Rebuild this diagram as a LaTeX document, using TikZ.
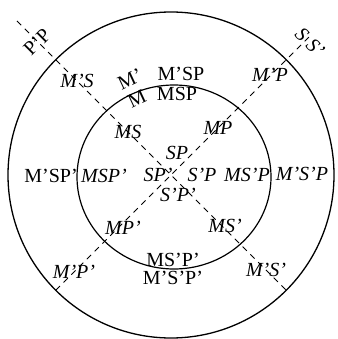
\documentclass[tikz,border=0pt]{standalone}
\usepackage{fontspec}
\setmainfont{Liberation Serif}
\usetikzlibrary{shapes.geometric}

\begin{document}
\begin{tikzpicture}[x=1pt, y=-1pt,
    lbl/.style={inner sep=0pt, font=\fontsize{20}{23}\selectfont\itshape},
    rlbl/.style={inner sep=0pt, font=\fontsize{20}{23}\selectfont\upshape},
    divide/.style={line width=0.8pt, dash pattern=on 6pt off 5pt}]
  \useasboundingbox (0,0) rectangle (337,339);
  % the two circles: M inside, M' in the ring
  \node[circle, draw, line width=1.3pt, inner sep=0pt, outer sep=0pt,
        minimum size=326] (outer) at (171,175) {};
  \node[ellipse, draw, line width=1.2pt, inner sep=0pt, outer sep=0pt,
        minimum width=194, minimum height=184] (inner) at (174,177) {};
  % dividing lines: P | P' and S | S'
  \coordinate (pend) at (17,21);
  \coordinate (send) at (311,35);
  \draw[divide] (pend) -- (outer.-45);
  \draw[divide] (outer.-135) -- (send);
  % line labels
  \node[rlbl, rotate=45] (pp) at (37,42) {P'P};
  \node[lbl, rotate=-45] (ss) at (310,42) {S\;S'};
  % top
  \node[rlbl, rotate=25] (mo) at (130,79) {M'};
  \node[rlbl] (msp-ot) at (181,74) {M'SP};
  \node[rlbl, rotate=25] (mi) at (137,99) {M};
  \node[rlbl] (msp-it) at (177,94) {MSP};
  % along the lines
  \node[lbl] (ms-o) at (77,81) {M'S};
  \node[lbl] (ms-i) at (128,132) {MS};
  \node[lbl] (mp-i) at (218,128) {MP};
  \node[lbl] (mp-o) at (270,75) {M'P};
  \node[lbl] (mpn-i) at (123,228) {MP'};
  \node[lbl] (msn-i) at (225,226) {MS'};
  \node[lbl] (mpn-o) at (74,272) {M'P'};
  \node[lbl] (msn-o) at (266,270) {M'S'};
  % centre
  \node[lbl] (c-t) at (177,153) {SP};
  \node[lbl] (c-l) at (158,175) {SP'};
  \node[lbl] (c-r) at (202,175) {S'P};
  \node[lbl] (c-b) at (178,195) {S'P'};
  % sides
  \node[rlbl] (l-o) at (51,176) {M'SP'};
  \node[lbl] (l-i) at (104,176) {MSP'};
  \node[lbl] (r-i) at (247,175) {MS'P};
  \node[lbl] (r-o) at (302,174) {M'S'P};
  % bottom
  \node[rlbl] (b-i) at (173,260) {MS'P'};
  \node[rlbl] (b-o) at (173,278) {M'S'P'};
\end{tikzpicture}
\end{document}
